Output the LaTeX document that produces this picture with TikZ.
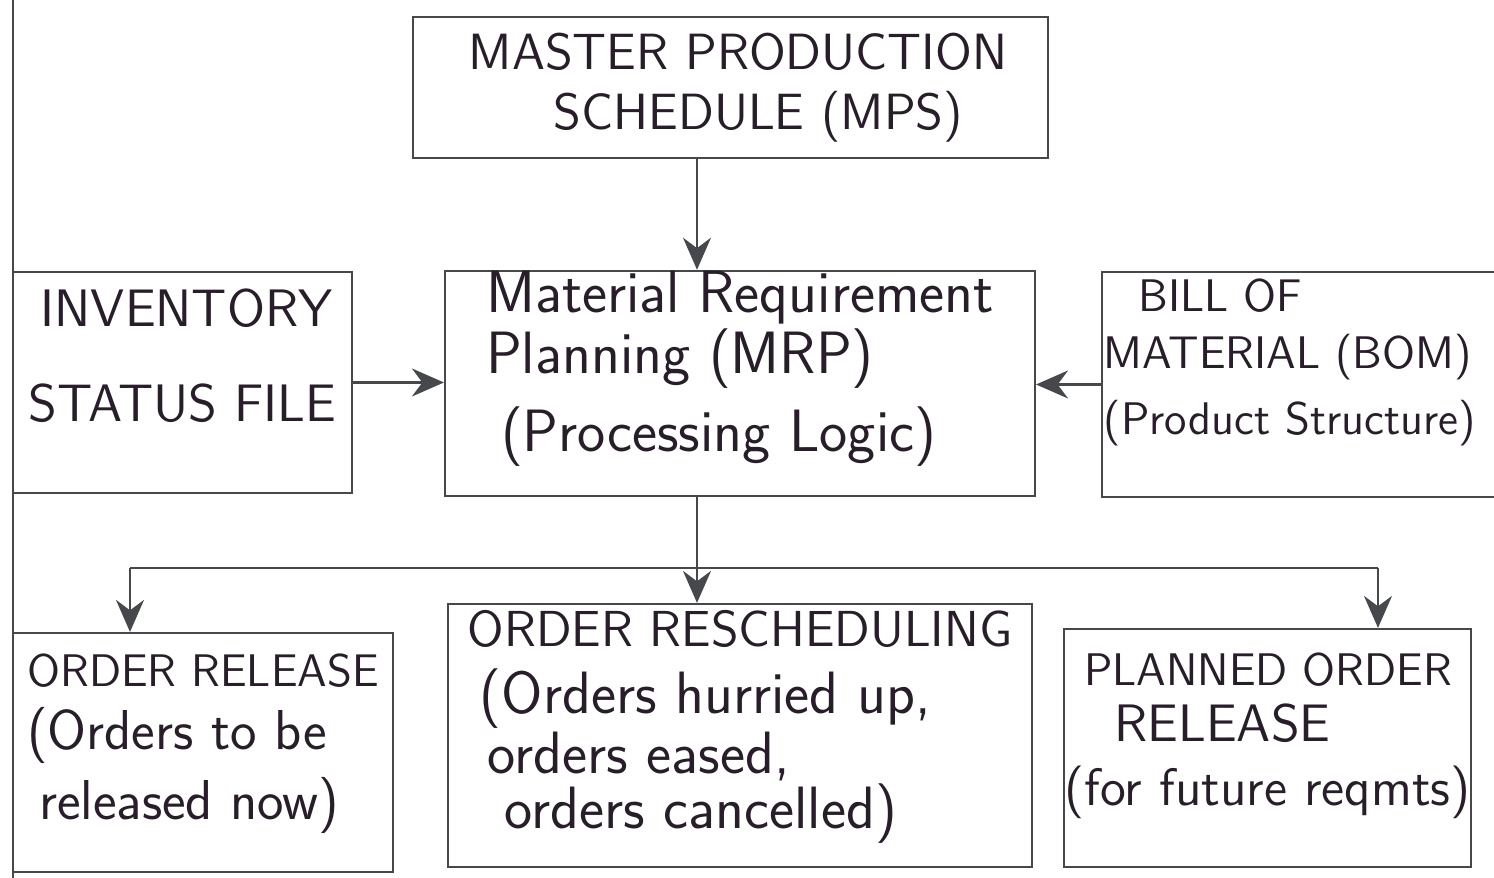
\documentclass[tikz,border=0pt]{standalone}
\usepackage{tikz}
\usetikzlibrary{arrows.meta}
\definecolor{ink}{RGB}{40,30,42}
\definecolor{pencil}{RGB}{70,72,76}
\newcommand{\handsize}[2]{\fontsize{#1}{#2}\selectfont}

\begin{document}
\begin{tikzpicture}[->,>={Stealth[length=3.2mm,width=2.8mm]},semithick,color=pencil,
    box/.style={draw=pencil,inner sep=0pt,align=left,text=ink}]
\useasboundingbox (0,0) rectangle (14.94,8.78);
% page margin
\coordinate (margtop) at (0.13,8.78);
\coordinate (margbot) at (0.13,0);
\draw[-] (margtop) -- (margbot);

% top
\node[box,minimum width=6.35cm,minimum height=1.41cm,font=\sffamily\handsize{14.5}{17}] (mps) at (7.305,7.905)
  {\hspace*{0.15cm}MASTER PRODUCTION\\\hspace*{1.0cm}SCHEDULE (MPS)};

% middle row
\node[box,minimum width=3.39cm,minimum height=2.21cm,text depth=0.54cm,font=\sffamily\handsize{15}{27}] (inv) at (1.825,4.955)
  {\hspace*{0.12cm}INVENTORY\\STATUS FILE};
\node[box,minimum width=5.90cm,minimum height=2.23cm,text depth=0.45cm,font=\sffamily\handsize{17}{16}] (mrp) at (7.40,4.945)
  {Material Requirement\\[0.5pt]Planning (MRP)\\[4pt]\hspace*{0.15cm}(Processing Logic)};
\node[box,minimum width=4.16cm,minimum height=2.25cm,text depth=0.55cm,font=\sffamily\handsize{13}{17}] (bom) at (13.10,4.935)
  {\hspace*{0.35cm}BILL OF\\[-1pt]MATERIAL (BOM)\\[2pt](Product Structure)\hspace*{0.4cm}};

% bottom row
\node[box,minimum width=3.80cm,minimum height=2.39cm,text depth=0.32cm,font=\sffamily\handsize{13}{17}] (ordrel) at (2.03,1.255)
  {ORDER RELEASE\\[1pt]\handsize{16}{17}(Orders to be\\[3pt]\handsize{16}{17}\hspace*{0.12cm}released now)};
\node[box,minimum width=5.84cm,minimum height=2.63cm,text depth=0.32cm,font=\sffamily\handsize{14.4}{10}] (resched) at (7.40,1.425)
  {ORDER RESCHEDULING\\[5pt]\handsize{17}{10}\hspace*{0.12cm}(Orders hurried up,\\\handsize{17}{10}\hspace*{0.2cm}orders eased,\\\handsize{17}{10}\hspace*{0.37cm}orders cancelled)};
\node[box,minimum width=3.99cm,minimum height=2.38cm,text depth=0.38cm,font=\sffamily\handsize{13}{16}] (planned) at (12.675,1.30)
  {\hspace*{0.2cm}PLANNED ORDER\\[0pt]\handsize{15}{16}\hspace*{0.5cm}RELEASE\\[2pt]\handsize{15}{16}(for future reqmts)};

% connectors
\coordinate (trunk) at (6.97,3.10);
\coordinate (busL) at (1.30,3.10);
\coordinate (busR) at (13.78,3.10);
\draw (mps.south -| trunk) -- (mrp.north -| trunk);
\draw (inv.east) -- (mrp.west |- inv.east);
\draw (bom.west) -- (mrp.east |- bom.west);
\draw (mrp.south -| trunk) -- (resched.north -| trunk);
\draw[-] (busL) -- (busR);
\draw (busL) -- (ordrel.north -| busL);
\draw (busR) -- (planned.north -| busR);
\end{tikzpicture}
\end{document}
